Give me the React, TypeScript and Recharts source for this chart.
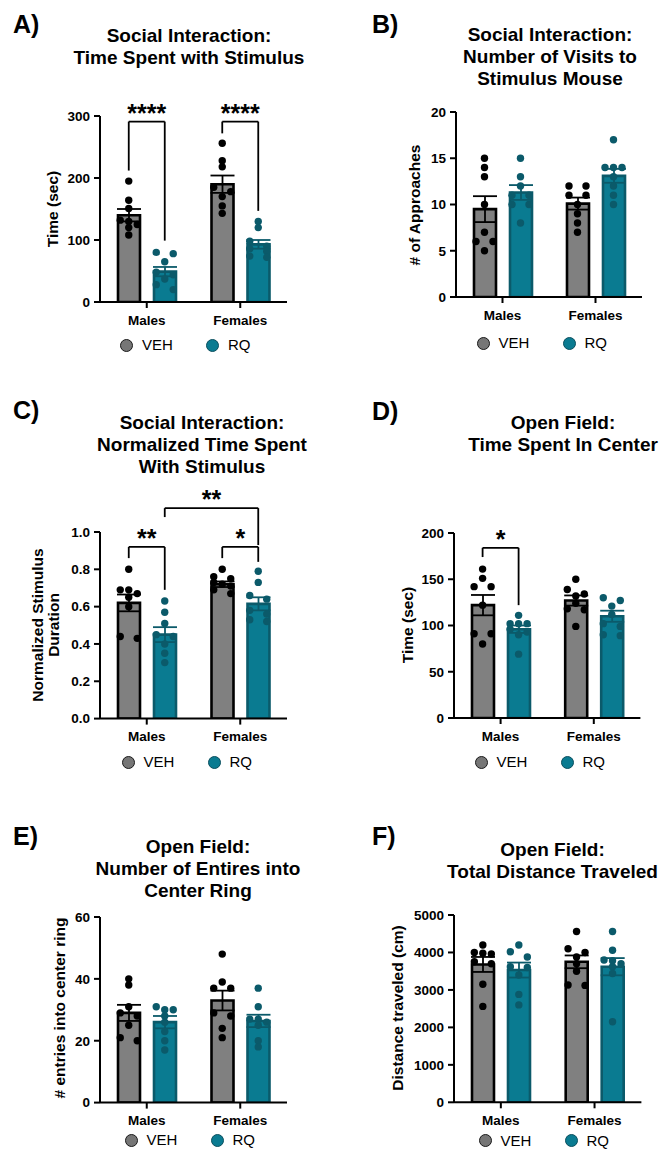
import React from 'react';
import { ComposedChart, Bar, ErrorBar, Scatter, XAxis, YAxis, ReferenceLine } from 'recharts';

const FONT = '"Liberation Sans", Arial, Helvetica, sans-serif';
const groups = ['Males', 'Females'];

// A) time spent with stimulus (sec)
const aVehMean = [140, 190];
const aVehSem = [10, 14];
const aRqMean = [49, 93];
const aRqSem = [7.5, 7];
const aVehDots = [[195, 164, 151, 132, 130, 125, 120, 108], [256, 228, 218, 185, 178, 170, 155, 143]];
const aRqDots = [[80, 78, 65, 48, 44, 37, 28, 20], [130, 120, 98, 90, 86, 82, 74, 72]];
const aTicks = [0, 100, 200, 300];

// B) number of visits
const bVehMean = [9.5, 10.1];
const bVehSem = [1.4, 0.65];
const bRqMean = [11.3, 13.1];
const bRqSem = [0.8, 0.75];
const bVehDots = [[15, 14, 13, 10, 7, 6, 6, 5], [12, 12, 11, 11, 10, 9, 8, 7]];
const bRqDots = [[15, 13, 12, 11, 11, 10, 10, 8], [17, 14, 14, 14, 13, 12, 11, 10]];
const bTicks = [0, 5, 10, 15, 20];

// C) normalized time with stimulus
const cVehMean = [0.62, 0.72];
const cVehSem = [0.045, 0.015];
const cRqMean = [0.45, 0.615];
const cRqSem = [0.04, 0.035];
const cVehDots = [[0.8, 0.69, 0.69, 0.67, 0.65, 0.6, 0.44, 0.43], [0.8, 0.76, 0.75, 0.73, 0.72, 0.71, 0.69, 0.67]];
const cRqDots = [[0.63, 0.57, 0.51, 0.45, 0.44, 0.4, 0.35, 0.3], [0.79, 0.73, 0.66, 0.64, 0.58, 0.56, 0.53, 0.52]];
const cTicks = [0, 0.2, 0.4, 0.6, 0.8, 1.0];

// D) open field, time in center (sec)
const dVehMean = [122, 127];
const dVehSem = [11, 5.5];
const dRqMean = [96, 110];
const dRqSem = [4, 6];
const dVehDots = [[161, 151, 142, 142, 122, 91, 91, 80], [150, 139, 134, 132, 124, 118, 117, 99]];
const dRqDots = [[111, 102, 102, 102, 96, 93, 90, 69], [130, 127, 121, 112, 102, 99, 90, 89]];
const dTicks = [0, 50, 100, 150, 200];

// E) entries into center ring
const eVehMean = [29, 33];
const eVehSem = [2.6, 3.2];
const eRqMean = [26, 26.4];
const eRqSem = [2, 2];
const eVehDots = [[40, 38, 31, 29, 28, 25, 21, 20], [48, 39, 37, 37, 29, 28, 24, 21]];
const eRqDots = [[31, 30, 30, 28, 26, 23, 20, 17], [37, 31, 27, 27, 26, 25, 20, 18]];
const eTicks = [0, 20, 40, 60];

// F) total distance (cm)
const fVehMean = [3680, 3750];
const fVehSem = [200, 170];
const fRqMean = [3530, 3620];
const fRqSem = [200, 230];
const fVehDots = [[4200, 4000, 3980, 3960, 3750, 3700, 3150, 2560], [4560, 4100, 4000, 3880, 3700, 3500, 3130, 3120]];
const fRqDots = [[4200, 4020, 3880, 3620, 3600, 3400, 2880, 2600], [4560, 4060, 3800, 3780, 3700, 3620, 3440, 2150]];
const fTicks = [0, 1000, 2000, 3000, 4000, 5000];

// significance brackets: [cat, series] -> [cat, series], top, left leg end, right leg end
const aBrackets = [
  { from: [0, 0], to: [0, 1], top: 291, l: 212, r: 99, text: '****' },
  { from: [1, 0], to: [1, 1], top: 291, l: 272, r: 147, text: '****' },
];
const cBrackets = [
  { from: [0, 0], to: [0, 1], top: 0.92, l: 0.86, r: 0.69, text: '**' },
  { from: [1, 0], to: [1, 1], top: 0.92, l: 0.86, r: 0.84, text: '*' },
  { from: [0, 1], to: [1, 1], top: 1.128, l: 1.08, r: 0.93, text: '**' },
];
const dBrackets = [{ from: [0, 0], to: [0, 1], top: 184, l: 174, r: 122, text: '*' }];

const VEH_FILL = '#808080';
const RQ_FILL = '#0a7b91';
const RQ_DARK = '#0b5a6a';
const BAR = 22;
const GAP = 14;
const R_DOT = 3.7;
const SPREAD = 8.5;

function swarm(vals: number[], pxPerUnit: number) {
  const sorted = [...vals].sort((a, b) => b - a);
  const rows: number[][] = [];
  for (const v of sorted) {
    const last = rows[rows.length - 1];
    if (last && (last[0] - v) * pxPerUnit < 5.5) last.push(v);
    else rows.push([v]);
  }
  const out: { v: number; dx: number }[] = [];
  rows.forEach((row) => {
    const n = row.length;
    row.forEach((v, k) => {
      const dx = n === 1 ? 0 : n === 2 ? (k === 0 ? -SPREAD : SPREAD) : (k - (n - 1) / 2) * SPREAD;
      out.push({ v, dx });
    });
  });
  return out;
}

const dotShape = (color: string) => (props: any) =>
  <circle cx={props.cx} cy={props.cy} r={R_DOT} fill={color} />;

function Panel(p: any) {
  const plotW = p.R - p.L;
  const plotH = p.B - p.T;
  const YW = 70, TOP = 60, XH = 40, RM = 10;
  const band = plotW / 2;
  const barOff = (BAR + GAP) / 2;
  const yMax = p.ticks[p.ticks.length - 1];
  const ppu = plotH / yMax;
  const data = groups.map((g, i) => ({
    sex: g, veh: p.vehMean[i], vehSem: p.vehSem[i], rq: p.rqMean[i], rqSem: p.rqSem[i],
  }));
  const xOf = (cat: number, s: number) => cat + 0.5 + ((s === 0 ? -1 : 1) * barOff) / band;
  const dots = (vals: number[], cat: number, s: number) =>
    swarm(vals, ppu).map(({ v, dx }) => ({ x: xOf(cat, s) + dx / band, y: v }));
  const tick = { fill: '#000', fontSize: 13.5, fontWeight: 700, fontFamily: FONT };
  const axisLine = { stroke: '#000', strokeWidth: 2 };
  const lbl = p.yLabel as string[];
  return (
    <>
      <div style={{ position: 'absolute', left: p.letterX, top: p.letterY - 12.5, fontSize: 25, lineHeight: '25px', fontWeight: 700 }}>
        {p.letter}
      </div>
      <div style={{ position: 'absolute', left: p.titleX - 160, width: 320, top: p.titleY - 11, textAlign: 'center', fontSize: 19, lineHeight: '22px', fontWeight: 700 }}>
        {p.title.map((t: string) => <div key={t}>{t}</div>)}
      </div>
      <div style={{
        position: 'absolute', left: p.ylX - 150, width: 300, top: p.ylY - (lbl.length * 16) / 2, height: lbl.length * 16,
        transform: 'rotate(-90deg)', textAlign: 'center', fontSize: 15.5, lineHeight: '16px', fontWeight: 700, whiteSpace: 'nowrap',
      }}>
        {lbl.map((t) => <div key={t}>{t}</div>)}
      </div>
      <div style={{ position: 'absolute', left: p.L - YW, top: p.T - TOP }}>
        <ComposedChart width={YW + plotW + RM} height={TOP + plotH + XH} data={data}
          margin={{ top: TOP, right: RM, bottom: 0, left: 0 }} barGap={GAP} barSize={BAR}>
          <XAxis xAxisId="cat" dataKey="sex" type="category" height={XH} tick={tick} tickSize={6} tickMargin={7}
            axisLine={axisLine} tickLine={axisLine} interval={0} />
          <XAxis xAxisId="num" type="number" dataKey="x" domain={[0, 2]} hide height={0} allowDataOverflow />
          <YAxis yAxisId="val" width={YW} type="number" domain={[0, yMax]} ticks={p.ticks} interval={0} allowDataOverflow
            tick={tick} tickSize={6} tickMargin={4} axisLine={axisLine} tickLine={axisLine} tickFormatter={p.fmt} />
          <YAxis yAxisId="num" type="number" dataKey="y" domain={[0, yMax]} hide width={0} allowDataOverflow />
          <Bar xAxisId="cat" yAxisId="val" dataKey="veh" fill={VEH_FILL} stroke="#000" strokeWidth={2.6} isAnimationActive={false}>
            <ErrorBar dataKey="vehSem" width={12} stroke="#000" strokeWidth={1.8} />
          </Bar>
          <Bar xAxisId="cat" yAxisId="val" dataKey="rq" fill={RQ_FILL} stroke={RQ_DARK} strokeWidth={2.6} isAnimationActive={false}>
            <ErrorBar dataKey="rqSem" width={12} stroke={RQ_DARK} strokeWidth={1.8} />
          </Bar>
          {[0, 1].map((c) => (
            <Scatter key={'v' + c} xAxisId="num" yAxisId="num" data={dots(p.vehDots[c], c, 0)} shape={dotShape('#000')} isAnimationActive={false} />
          ))}
          {[0, 1].map((c) => (
            <Scatter key={'r' + c} xAxisId="num" yAxisId="num" data={dots(p.rqDots[c], c, 1)} shape={dotShape(RQ_DARK)} isAnimationActive={false} />
          ))}
          {(p.brackets || []).flatMap((b: any, i: number) => {
            const x1 = xOf(b.from[0], b.from[1]);
            const x2 = xOf(b.to[0], b.to[1]);
            const common = { xAxisId: 'num', yAxisId: 'num', stroke: '#000', strokeWidth: 1.8, ifOverflow: 'visible' as const };
            return [
              <ReferenceLine key={i + 'a'} {...common} segment={[{ x: x1, y: b.l }, { x: x1, y: b.top }]} />,
              <ReferenceLine key={i + 'b'} {...common} segment={[{ x: x1, y: b.top }, { x: x2, y: b.top }]}
                label={{ value: b.text, position: 'top', offset: 0, fill: '#000', fontSize: 25, fontWeight: 700, fontFamily: FONT }} />,
              <ReferenceLine key={i + 'c'} {...common} segment={[{ x: x2, y: b.top }, { x: x2, y: b.r }]} />,
            ];
          })}
        </ComposedChart>
      </div>
      {[{ name: 'VEH', x: p.legX, fill: '#767676', border: '#1a1a1a' }, { name: 'RQ', x: p.legX + 86, fill: RQ_FILL, border: '#0b4f5e' }].map((it) => (
        <React.Fragment key={it.name}>
          <div style={{
            position: 'absolute', left: it.x - 6.5, top: p.legY - 6.5, width: 13, height: 13, boxSizing: 'border-box',
            borderRadius: '50%', background: it.fill, border: `1.6px solid ${it.border}`,
          }} />
          <div style={{ position: 'absolute', left: it.x + 15.5, top: p.legY - 9, fontSize: 15, lineHeight: '18px' }}>{it.name}</div>
        </React.Fragment>
      ))}
    </>
  );
}

const panels = [
  {
    letter: 'A)', letterX: 13, letterY: 24, title: ['Social Interaction:', 'Time Spent with Stimulus'], titleX: 189, titleY: 36,
    L: 100, R: 287, T: 116, B: 302, ticks: aTicks, yLabel: ['Time (sec)'], ylX: 53, ylY: 209, legX: 126.5, legY: 345,
    vehMean: aVehMean, vehSem: aVehSem, rqMean: aRqMean, rqSem: aRqSem, vehDots: aVehDots, rqDots: aRqDots, brackets: aBrackets,
  },
  {
    letter: 'B)', letterX: 372, letterY: 24, title: ['Social Interaction:', 'Number of Visits to', 'Stimulus Mouse'], titleX: 550, titleY: 35,
    L: 456, R: 642, T: 112, B: 297, ticks: bTicks, yLabel: ['# of Approaches'], ylX: 415, ylY: 205, legX: 483, legY: 343,
    vehMean: bVehMean, vehSem: bVehSem, rqMean: bRqMean, rqSem: bRqSem, vehDots: bVehDots, rqDots: bRqDots,
  },
  {
    letter: 'C)', letterX: 13, letterY: 410, title: ['Social Interaction:', 'Normalized Time Spent', 'With Stimulus'], titleX: 202, titleY: 423,
    L: 100, R: 287, T: 531.7, B: 718.3, ticks: cTicks, fmt: (v: number) => v.toFixed(1),
    yLabel: ['Normalized Stimulus', 'Duration'], ylX: 45.5, ylY: 625, legX: 128, legY: 762,
    vehMean: cVehMean, vehSem: cVehSem, rqMean: cRqMean, rqSem: cRqSem, vehDots: cVehDots, rqDots: cRqDots, brackets: cBrackets,
  },
  {
    letter: 'D)', letterX: 372, letterY: 411, title: ['Open Field:', 'Time Spent In Center'], titleX: 563, titleY: 423,
    L: 454.3, R: 640.7, T: 533.3, B: 718.3, ticks: dTicks, yLabel: ['Time (sec)'], ylX: 408, ylY: 625, legX: 481, legY: 762,
    vehMean: dVehMean, vehSem: dVehSem, rqMean: dRqMean, rqSem: dRqSem, vehDots: dVehDots, rqDots: dRqDots, brackets: dBrackets,
  },
  {
    letter: 'E)', letterX: 13, letterY: 836, title: ['Open Field:', 'Number of Entires into', 'Center Ring'], titleX: 198, titleY: 847,
    L: 100, R: 287, T: 916.7, B: 1102.3, ticks: eTicks, yLabel: ['# entries into center ring'], ylX: 60, ylY: 1008, legX: 131, legY: 1140,
    vehMean: eVehMean, vehSem: eVehSem, rqMean: eRqMean, rqSem: eRqSem, vehDots: eVehDots, rqDots: eRqDots,
  },
  {
    letter: 'F)', letterX: 372, letterY: 836, title: ['Open Field:', 'Total Distance Traveled'], titleX: 552.5, titleY: 850,
    L: 454.3, R: 641.7, T: 915, B: 1102.3, ticks: fTicks, yLabel: ['Distance traveled (cm)'], ylX: 398, ylY: 1008, legX: 485, legY: 1140.7,
    vehMean: fVehMean, vehSem: fVehSem, rqMean: fRqMean, rqSem: fRqSem, vehDots: fVehDots, rqDots: fRqDots,
  },
];

export default function App() {
  return (
    <div style={{ position: 'absolute', left: 0, top: 0, width: 660, height: 1149, background: '#fff', fontFamily: FONT, color: '#000', overflow: 'hidden' }}>
      {panels.map((p) => <Panel key={p.letter} {...p} />)}
    </div>
  );
}
